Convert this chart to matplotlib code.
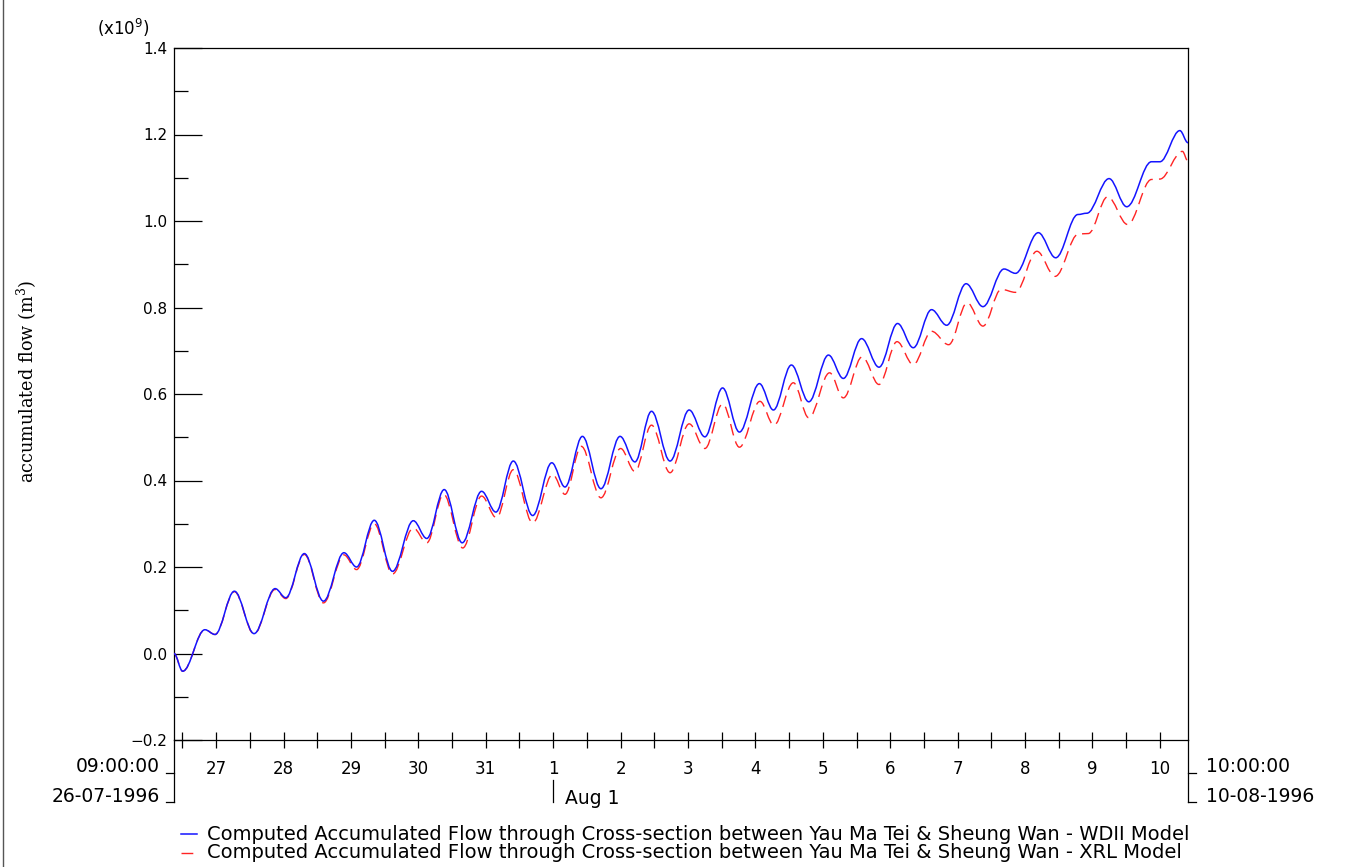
import numpy as np
import matplotlib
matplotlib.use("Agg")
import matplotlib.pyplot as plt
from matplotlib.path import Path
from matplotlib.patches import PathPatch
from matplotlib.lines import Line2D
from matplotlib.transforms import blended_transform_factory

# ---------------- data (hours since 26-07-1996 09:00:00, value x1e9 m^3) -------------
start_label = ["09:00:00", "26-07-1996"]
end_label = ["10:00:00", "10-08-1996"]
t_end = 361.0

# turning points: WDII model (blue, solid)
wdii_t = [0.0, 3.1, 11.0, 14.6, 21.5, 28.5, 36.0, 39.8, 46.4, 53.2, 60.5, 65.0,
          71.3, 77.8, 85.2, 90.0, 96.2, 102.6, 109.5, 114.6, 120.8, 127.7, 134.5,
          139.2, 145.4, 152.0, 158.8, 164.1, 170.0, 176.6, 183.4, 189.0, 195.3,
          201.3, 208.4, 213.4, 219.8, 226.0, 233.0, 238.3, 244.8, 251.0, 257.6,
          263.2, 269.7, 275.1, 282.0, 288.0, 295.5, 299.6, 307.7, 313.9, 321.8,
          325.0, 332.9, 339.2, 348.0, 351.0, 358.1, 361.0]
wdii_v = [0.000, -0.041, 0.055, 0.044, 0.144, 0.046, 0.150, 0.129, 0.231, 0.121,
          0.233, 0.200, 0.308, 0.190, 0.307, 0.266, 0.379, 0.256, 0.375, 0.327,
          0.445, 0.319, 0.441, 0.385, 0.502, 0.381, 0.502, 0.443, 0.560, 0.445,
          0.563, 0.501, 0.614, 0.512, 0.624, 0.563, 0.667, 0.582, 0.690, 0.636,
          0.728, 0.662, 0.763, 0.707, 0.795, 0.759, 0.855, 0.802, 0.889, 0.879,
          0.973, 0.915, 1.015, 1.018, 1.098, 1.033, 1.137, 1.137, 1.209, 1.181]

# turning points: XRL model (red, dashed)
xrl_t = [0.0, 3.1, 11.0, 14.6, 21.5, 28.5, 36.0, 39.8, 46.4, 53.2, 60.5, 65.0,
         71.3, 77.8, 85.2, 90.0, 96.0, 102.8, 109.5, 114.8, 120.8, 127.7, 134.8,
         139.2, 145.0, 152.0, 159.0, 164.1, 170.0, 176.6, 183.4, 189.0, 195.3,
         201.3, 208.6, 213.6, 220.5, 226.0, 233.4, 238.3, 245.0, 251.0, 257.4,
         263.2, 269.7, 275.8, 282.4, 288.0, 294.5, 299.6, 307.2, 313.7, 322.0,
         325.5, 332.4, 339.5, 348.0, 351.0, 359.0, 361.0]
xrl_v = [0.000, -0.041, 0.055, 0.044, 0.143, 0.045, 0.148, 0.127, 0.229, 0.117,
         0.228, 0.194, 0.300, 0.184, 0.290, 0.256, 0.368, 0.244, 0.364, 0.314,
         0.425, 0.302, 0.414, 0.368, 0.479, 0.360, 0.474, 0.421, 0.528, 0.418,
         0.531, 0.474, 0.577, 0.477, 0.583, 0.528, 0.626, 0.545, 0.649, 0.591,
         0.686, 0.622, 0.721, 0.668, 0.745, 0.714, 0.811, 0.757, 0.842, 0.835,
         0.930, 0.872, 0.970, 0.971, 1.056, 0.992, 1.096, 1.097, 1.161, 1.138]

day_labels = ["27", "28", "29", "30", "31", "1", "2", "3", "4", "5",
              "6", "7", "8", "9", "10"]
y_ticks = [-0.2, 0.0, 0.2, 0.4, 0.6, 0.8, 1.0, 1.2, 1.4]
y_tick_labels = ["\u22120.2", "0.0", "0.2", "0.4", "0.6", "0.8", "1.0", "1.2", "1.4"]
legend_labels = [
    "Computed Accumulated Flow through Cross-section between Yau Ma Tei & Sheung Wan - WDII Model",
    "Computed Accumulated Flow through Cross-section between Yau Ma Tei & Sheung Wan - XRL Model",
]

# ---------------- figure -------------------------------------------------------------
W, H = 1351, 867
plt.rcParams["font.family"] = ["DejaVu Sans"]
plt.rcParams["mathtext.fontset"] = "dejavusans"
fig = plt.figure(figsize=(W / 100, H / 100), dpi=100)
ax = fig.add_axes([174 / W, 127 / H, 1014 / W, 692 / H])

BLUE = "#1414ff"
RED = "#ff2424"
DASH = (0, (8.5, 4.5))


def fx(x):
    return x / W


def fy(y):
    return 1 - y / H


def smooth_path(t, v):
    verts = [(t[0], v[0])]
    codes = [Path.MOVETO]
    for i in range(len(t) - 1):
        dt = t[i + 1] - t[i]
        verts += [(t[i] + 0.36 * dt, v[i]), (t[i + 1] - 0.36 * dt, v[i + 1]),
                  (t[i + 1], v[i + 1])]
        codes += [Path.CURVE4] * 3
    return Path(verts, codes)


ax.add_patch(PathPatch(smooth_path(xrl_t, xrl_v), fill=False, edgecolor=RED,
                       lw=1.0, linestyle=DASH, capstyle="butt", zorder=3))
ax.add_patch(PathPatch(smooth_path(wdii_t, wdii_v), fill=False, edgecolor=BLUE,
                       lw=1.1, zorder=4))

ax.set_xlim(0, t_end)
ax.set_ylim(-0.2, 1.4)

# x ticks every 12 h (midnights labelled)
first_midnight = 15.0
xt = np.arange(first_midnight - 12, t_end, 12)
xl = []
for x in xt:
    k = (x - first_midnight) / 24
    xl.append(day_labels[int(k)] if k >= 0 and abs(k - round(k)) < 1e-6 else "")
ax.set_xticks(xt)
ax.set_xticklabels(xl)
ax.tick_params(axis="x", direction="inout", length=11.5, width=0.9, pad=9,
               labelsize=12, color="black")

# y ticks
ax.set_yticks(y_ticks)
ax.set_yticklabels(y_tick_labels)
ax.set_yticks(np.arange(-0.1, 1.4, 0.2), minor=True)
ax.tick_params(axis="y", which="major", direction="in", length=20, width=0.9,
               pad=5, labelsize=11)
ax.tick_params(axis="y", which="minor", direction="in", length=10, width=0.9)
for s in ax.spines.values():
    s.set_linewidth(0.9)
    s.set_color("black")

# y label and scale
fig.text(fx(27), fy(381), "accumulated flow (m$^3$)", rotation=90, ha="center",
         va="center", fontsize=12.7, family="DejaVu Serif",
         math_fontfamily="dejavuserif")
fig.text(fx(97), fy(28), "(x10$^9$)", ha="left", va="center", fontsize=12)

# start / end date brackets
bt = blended_transform_factory(ax.transData, fig.transFigure)
fig.text(fx(160), fy(766), start_label[0], ha="right", va="center", fontsize=13.5)
fig.text(fx(160), fy(796), start_label[1], ha="right", va="center", fontsize=13.5)
fig.text(fx(1206), fy(766), end_label[0], ha="left", va="center", fontsize=13.5)
fig.text(fx(1206), fy(796), end_label[1], ha="left", va="center", fontsize=13.5)
for x0 in (0.0, t_end):
    fig.add_artist(Line2D([x0, x0], [fy(740), fy(802)], transform=bt, color="black", lw=0.9))
for xpx, sgn in ((174, -1), (1188, 1)):
    for ypx in (773, 802):
        fig.add_artist(Line2D([fx(xpx), fx(xpx + sgn * 8)], [fy(ypx), fy(ypx)],
                              transform=fig.transFigure, color="black", lw=0.9))

# Aug 1 month marker
aug1 = first_midnight + 24 * day_labels.index("1")
fig.add_artist(Line2D([aug1, aug1], [fy(780), fy(802)], transform=bt, color="black", lw=0.9))
fig.text(fx(565), fy(798), "Aug 1", ha="left", va="center", fontsize=13.5)

# legend
fig.add_artist(Line2D([fx(181), fx(197)], [fy(834), fy(834)], transform=fig.transFigure,
                      color=BLUE, lw=1.1))
fig.add_artist(Line2D([fx(181), fx(197)], [fy(853), fy(853)], transform=fig.transFigure,
                      color=RED, lw=1.0, linestyle=DASH))
fig.text(fx(207), fy(834), legend_labels[0], ha="left", va="center", fontsize=14)
fig.text(fx(207), fy(853), legend_labels[1], ha="left", va="center", fontsize=14)

# outer frame line at the left edge
fig.add_artist(Line2D([fx(3), fx(3)], [0, 1], transform=fig.transFigure, color="#555555", lw=1))

fig.savefig("out.png", dpi=100)
